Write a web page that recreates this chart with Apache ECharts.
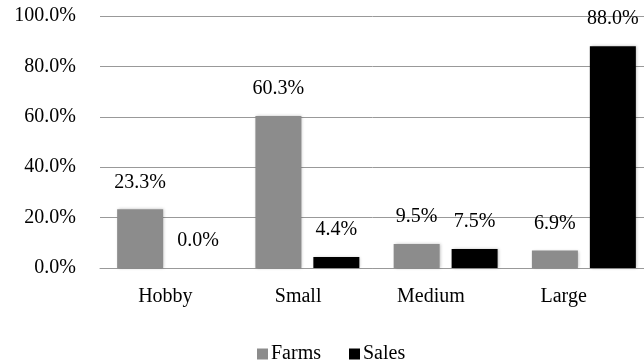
<!DOCTYPE html>
<html><head><meta charset="utf-8">
<script src="https://cdn.jsdelivr.net/npm/echarts@6/dist/echarts.min.js"></script>
<style>html,body{margin:0;padding:0;background:#fff}#c{width:644px;height:362px}</style>
</head><body><div id="c"></div>
<script>
const categories = ["Hobby", "Small", "Medium", "Large"];
const farms = [23.3, 60.3, 9.5, 6.9];
const sales = [0.0, 4.4, 7.5, 88.0];
const seriesNames = ["Farms", "Sales"];

const FONT = "Liberation Serif";
const FS = 20;
const chart = echarts.init(document.getElementById('c'), null, {renderer: 'canvas'});
const lbl = {
  show: true, position: 'top', distance: 17, color: '#000',
  fontFamily: FONT, fontSize: FS,
  formatter: p => p.value.toFixed(1) + '%'
};
chart.setOption({
  animation: false,
  textStyle: {fontFamily: FONT},
  grid: [
    {left: 100, width: 553, top: 16, height: 252, containLabel: false, outerBoundsMode: 'none'},
    {left: 99, width: 531, top: 16, height: 252, containLabel: false, outerBoundsMode: 'none'}
  ],
  legend: {
    data: seriesNames, left: 252, top: 339, itemWidth: 11, itemHeight: 11, itemGap: 28,
    icon: 'rect', textStyle: {fontFamily: FONT, fontSize: FS, color: '#000', padding: [0, 0, 0, -2]}
  },
  xAxis: [
    {
      type: 'category', data: categories, gridIndex: 0,
      axisLine: {show: true, lineStyle: {color: '#999', width: 1}},
      axisTick: {show: false},
      axisLabel: {show: false}
    },
    {
      type: 'category', data: categories, gridIndex: 1,
      axisLine: {show: false}, axisTick: {show: false},
      axisLabel: {color: '#000', fontFamily: FONT, fontSize: FS, margin: 19}
    }
  ],
  yAxis: [
    {
      type: 'value', min: 0, max: 100, interval: 20, gridIndex: 0,
      axisLine: {show: false}, axisTick: {show: false},
      splitLine: {lineStyle: {color: '#999', width: 1}},
      axisLabel: {color: '#000', fontFamily: FONT, fontSize: FS, margin: 24,
        formatter: v => v.toFixed(1) + '%'}
    },
    {type: 'value', min: 0, max: 100, gridIndex: 1, show: false}
  ],
  series: [
    {name: seriesNames[0], type: 'bar', data: farms, barWidth: 46, barGap: '26%',
     itemStyle: {color: '#8c8c8c', shadowColor: 'rgba(0,0,0,0.25)', shadowBlur: 3, shadowOffsetX: 1},
     label: lbl},
    {name: seriesNames[1], type: 'bar', data: sales, barWidth: 46,
     itemStyle: {color: '#000', shadowColor: 'rgba(0,0,0,0.25)', shadowBlur: 3, shadowOffsetX: 1},
     label: lbl}
  ]
});
</script></body></html>
